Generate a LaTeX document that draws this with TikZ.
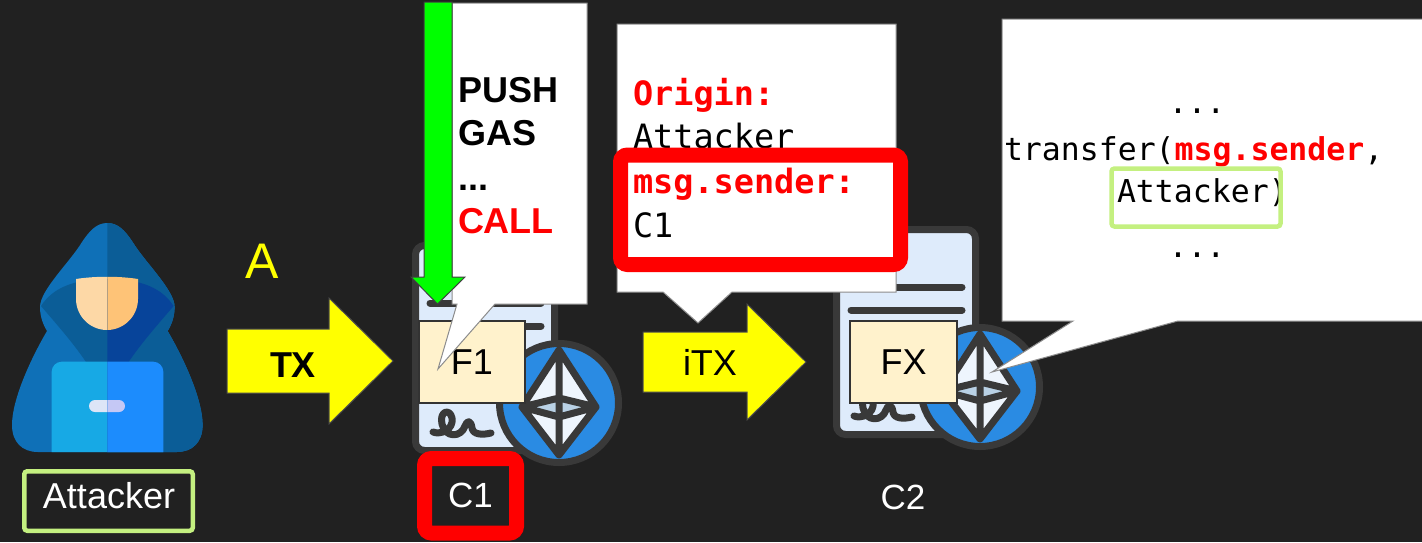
\documentclass[tikz,border=0pt]{standalone}
\usepackage{fontspec}
\setmainfont{Liberation Sans}
\newfontfamily\codefont{DejaVu Sans Mono}
\newcommand\fsize[1]{\fontsize{#1}{#1}\selectfont}

\definecolor{bg}{HTML}{212121}
\definecolor{hoodL}{HTML}{0F70B7}
\definecolor{hoodR}{HTML}{0B5D97}
\definecolor{innerL}{HTML}{0B5D97}
\definecolor{innerR}{HTML}{07449A}
\definecolor{faceL}{HTML}{FDD8A6}
\definecolor{faceR}{HTML}{FEC377}
\definecolor{lapL}{HTML}{17A9E5}
\definecolor{lapR}{HTML}{1C8CFD}
\definecolor{pillL}{HTML}{DDE5F7}
\definecolor{pillR}{HTML}{C5C8F5}
\definecolor{docfill}{HTML}{DEEBFB}
\definecolor{iconline}{HTML}{393939}
\definecolor{ethblue}{HTML}{2A8BE3}
\definecolor{ethlight}{HTML}{EEF5FD}
\definecolor{ethmid}{HTML}{B9D1E5}
\definecolor{funcfill}{HTML}{FFF2CC}
\definecolor{keygreen}{HTML}{C4F080}
\definecolor{alarm}{HTML}{FF0000}
\definecolor{flow}{HTML}{FFFF00}
\definecolor{gasgreen}{HTML}{00FF00}

\tikzset{
  plain/.style={inner sep=0pt, outer sep=0pt},
  lighttext/.style={plain, text=white, font=\fsize{35}},
  boldtext/.style={plain, text=black, font=\fsize{36}\bfseries},
  codetext/.style={plain, text=black, font=\codefont\fsize{33.5}},
  codesmall/.style={plain, text=black, font=\codefont\fsize{31.5}},
  funcbox/.style={plain, fill=funcfill, draw=black!80, line width=1.2pt,
                  text=black, font=\fsize{36}},
  flowarrow/.style={fill=flow, draw=black!70, line width=1pt},
  bubble/.style={fill=white, draw=black!45, line width=1pt},
  greenframe/.style={plain, draw=keygreen, line width=4.5pt, rounded corners=3pt},
  alarmframe/.style={plain, draw=alarm, line width=15pt, rounded corners=7pt},
  contract/.pic={
    % document sheet
    \fill[docfill, draw=iconline, line width=7pt, rounded corners=9pt]
      (3.5,3.5) rectangle (142.5,208.5);
    \draw[iconline, line width=7pt, line cap=round]
      (18,61) -- (129,61) (18,84) -- (129,84);
    % signature
    \draw[iconline, line width=7pt, line cap=round, line join=round]
      (21,190) .. controls (28,193) and (42,188) .. (40,176)
      .. controls (38,166) and (27,169) .. (30,182)
      .. controls (33,196) and (49,196) .. (53,184)
      .. controls (55,178) and (59,178) .. (60,186)
      .. controls (61,193) and (71,193) .. (79,191);
    % coin with the ether mark
    \fill[ethblue, draw=iconline, line width=7pt] (147,161) circle[radius=59.5pt];
    \fill[ethlight] (147,108) -- (110,165) -- (147,213) -- (184,165) -- cycle;
    \fill[ethmid] (110,165) -- (147,156) -- (184,165) -- (147,175) -- cycle;
    \draw[iconline, line width=7pt, line join=round, line cap=round]
      (147,108) -- (110,165) -- (147,213) -- (184,165) -- cycle
      (147,108) -- (147,213)
      (110,165) -- (147,156) -- (184,165)
      (110,165) -- (147,175) -- (184,165);
  }
}

\begin{document}
\begin{tikzpicture}[x=1pt,y=-1pt]
\useasboundingbox (0,0) rectangle (1422,542);
\fill[bg] (0,0) rectangle (1422,542);

% hooded figure: lighter left half, darker right half
\foreach \cut/\s in {0/L,107.3/R}{
  \begin{scope}
    \clip (\cut,215) rectangle (215,460);
    \fill[fill=hood\s] (107.3,223) .. controls (97,223) and (90,230) .. (82,242)
      .. controls (70,262) and (40,290) .. (40,307)
      .. controls (40,318) and (44,326) .. (47,331)
      .. controls (30,360) and (12,400) .. (12,425)
      .. controls (12,442) and (22,452) .. (38,452)
      -- (176.6,452)
      .. controls (192.6,452) and (202.6,442) .. (202.6,425)
      .. controls (202.6,400) and (184.6,360) .. (167.6,331)
      .. controls (170.6,326) and (174.6,318) .. (174.6,307)
      .. controls (174.6,290) and (144.6,262) .. (132.6,242)
      .. controls (124.6,230) and (117.6,223) .. (107.3,223) -- cycle;
    \fill[fill=inner\s] (41,306) .. controls (52,289) and (72,279) .. (107.3,279)
      .. controls (142.6,279) and (162.6,289) .. (173.6,306)
      .. controls (160,322) and (142,342) .. (128.6,362) -- (86,362)
      .. controls (72.6,342) and (54.6,322) .. (41,306) -- cycle;
    \fill[fill=face\s] (76,279) .. controls (95,276) and (119,276) .. (138,279)
      -- (138,299) .. controls (138,316) and (124,330) .. (107,330)
      .. controls (90,330) and (76,316) .. (76,299) -- cycle;
    \fill[fill=lap\s] (51.7,452) {[rounded corners=10pt] -- (51.7,361.7) -- (163.3,361.7)}
      -- (163.3,452) -- cycle;
    \fill[fill=pill\s, rounded corners=6pt] (89,400) rectangle (125,412);
  \end{scope}
}
\node[greenframe, minimum width=168.5pt, minimum height=59.5pt] (attackerframe) at (108.5,501) {};
\node[lighttext, font=\fsize{36}, anchor=base] (attackertext) at (109,508) {Attacker};

% transaction into C1
\node[plain, text=flow, font=\fsize{50}, anchor=base] (alabel) at (262,278) {A};
\coordinate (txtip) at (393,361);
\filldraw[flowarrow] (227,329) -- (329,329) -- (329,298) -- (txtip) -- (329,424)
  -- (329,393) -- (227,393) -- cycle;
\node[boldtext, anchor=base] (txtext) at (293,377) {TX};

% contract C1
\pic (c1icon) at (412,242) {contract};
\node[funcbox, minimum width=106pt, minimum height=82pt] (f1) at (472,362) {F1};

\filldraw[bubble] (452,3) -- (587,3) -- (587,304) -- (495,304) -- (438,369)
  -- (457,304) -- (452,304) -- cycle;
\node[boldtext, anchor=base west] (push) at (458,102.5) {PUSH};
\node[boldtext, anchor=base west] (gas) at (458,145) {GAS};
\node[boldtext, anchor=base west] (dots1) at (458,190) {...};
\node[boldtext, text=alarm, anchor=base west] (call) at (458,233) {CALL};
\filldraw[fill=gasgreen, draw=black!75, line width=1pt] (424,2) -- (452,2) -- (452,277)
  -- (465,277) -- (437.5,304) -- (411,277) -- (424,277) -- cycle;

\node[alarmframe, minimum width=92pt, minimum height=74.5pt, lighttext] (c1label)
  at (470.5,495.75) {C1};

% internal transaction into C2
\coordinate (itxtip) at (806,362);
\filldraw[flowarrow] (643,332) -- (747,332) -- (747,304) -- (itxtip) -- (747,420)
  -- (747,392) -- (643,392) -- cycle;
\node[plain, text=black, font=\fsize{36}, anchor=base] (itxtext) at (710,375) {iTX};

% contract C2
\pic (c2icon) at (833,226) {contract};
\node[funcbox, minimum width=107pt, minimum height=82pt] (fx) at (903.5,362) {FX};
\node[lighttext] (c2label) at (903,497.5) {C2};

% context of the internal call
\filldraw[bubble] (617,24) -- (896,24) -- (896,292) -- (732,292) -- (698,323)
  -- (663,292) -- (617,292) -- cycle;
\node[codetext, anchor=base west] (origin) at (633,105) {\bfseries\color{alarm}Origin:};
\node[codetext, anchor=base west] (originval) at (633,148.5) {Attacker};
\node[codetext, anchor=base west] (sender) at (633,193) {\bfseries\color{alarm}msg.sender:};
\node[codetext, anchor=base west] (senderval) at (633,237) {C1};
\node[alarmframe, minimum width=280pt, minimum height=109.5pt] (senderframe)
  at (760.5,209.75) {};

% code run by FX
\filldraw[bubble] (1002,19) -- (1430,19) -- (1430,321) -- (1178,321) -- (992,372)
  -- (1073,321) -- (1002,321) -- cycle;
\node[codesmall, anchor=base] (dots2) at (1197,113) {...};
\node[codesmall, anchor=base west] (transfer) at (1004,160)
  {transfer({\bfseries\color{alarm}msg.sender},};
\node[codesmall, anchor=base west] (recipient) at (1117,202) {Attacker)};
\node[codesmall, anchor=base] (dots3) at (1197,257) {...};
\node[greenframe, minimum width=169pt, minimum height=58pt] (recipientframe)
  at (1196,197.5) {};
\end{tikzpicture}
\end{document}
